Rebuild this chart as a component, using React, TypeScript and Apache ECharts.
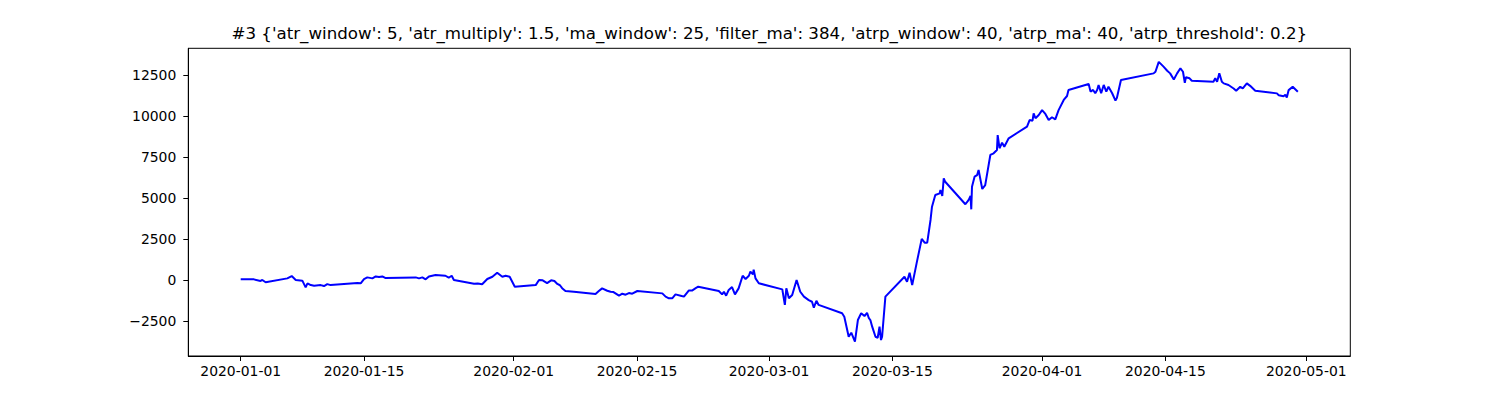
import React, { useEffect, useRef } from "react";
import * as echarts from "echarts";

const TITLE =
  "#3 {'atr_window': 5, 'atr_multiply': 1.5, 'ma_window': 25, 'filter_ma': 384, 'atrp_window': 40, 'atrp_ma': 40, 'atrp_threshold': 0.2}";

// equity curve, timestamps (UTC) and values
const times: string[] = [
  "2020-01-01 00:00", "2020-01-02 12:00", "2020-01-03 06:00", "2020-01-03 11:00", "2020-01-03 20:00",
  "2020-01-06 07:00", "2020-01-06 19:00", "2020-01-07 06:00", "2020-01-08 00:00", "2020-01-08 09:00",
  "2020-01-08 14:00", "2020-01-08 23:00", "2020-01-09 08:00", "2020-01-10 02:00", "2020-01-10 11:00",
  "2020-01-10 20:00", "2020-01-11 05:00", "2020-01-14 06:00", "2020-01-14 15:00", "2020-01-15 00:00",
  "2020-01-15 09:00", "2020-01-15 23:00", "2020-01-16 08:00", "2020-01-16 17:00", "2020-01-17 02:00",
  "2020-01-17 11:00", "2020-01-20 21:00", "2020-01-21 06:00", "2020-01-21 15:00", "2020-01-22 00:00",
  "2020-01-22 09:00", "2020-01-23 03:00", "2020-01-24 06:00", "2020-01-24 15:00", "2020-01-24 23:00",
  "2020-01-25 05:00", "2020-01-27 12:00", "2020-01-27 22:00", "2020-01-28 10:00", "2020-01-29 00:00",
  "2020-01-29 14:00", "2020-01-30 03:00", "2020-01-30 17:00", "2020-01-31 02:00", "2020-01-31 13:00",
  "2020-02-01 03:00", "2020-02-03 12:00", "2020-02-03 21:00", "2020-02-04 07:00", "2020-02-04 19:00",
  "2020-02-05 06:00", "2020-02-05 15:00", "2020-02-05 23:00", "2020-02-06 06:00", "2020-02-06 12:00",
  "2020-02-06 21:00", "2020-02-07 20:00", "2020-02-10 07:00", "2020-02-10 16:00", "2020-02-11 01:00",
  "2020-02-11 15:00", "2020-02-12 00:00", "2020-02-12 08:00", "2020-02-12 23:00", "2020-02-13 08:00",
  "2020-02-13 17:00", "2020-02-14 02:00", "2020-02-14 11:00", "2020-02-15 01:00", "2020-02-17 21:00",
  "2020-02-18 06:00", "2020-02-18 15:00", "2020-02-19 00:00", "2020-02-19 09:00", "2020-02-19 23:00",
  "2020-02-20 08:00", "2020-02-20 21:00", "2020-02-21 06:00", "2020-02-21 16:00", "2020-02-21 23:00",
  "2020-02-24 07:00", "2020-02-24 16:00", "2020-02-24 21:00", "2020-02-25 03:00", "2020-02-25 10:00",
  "2020-02-25 19:00", "2020-02-26 03:00", "2020-02-26 13:00", "2020-02-27 00:00", "2020-02-27 08:00",
  "2020-02-27 17:00", "2020-02-27 21:00", "2020-02-28 04:00", "2020-02-28 06:00", "2020-02-28 11:00",
  "2020-02-28 20:00", "2020-03-02 12:00", "2020-03-02 19:00", "2020-03-02 23:00", "2020-03-03 06:00",
  "2020-03-03 15:00", "2020-03-04 03:00", "2020-03-04 13:00", "2020-03-04 23:00", "2020-03-05 12:00",
  "2020-03-05 21:00", "2020-03-06 02:00", "2020-03-06 09:00", "2020-03-06 15:00", "2020-03-09 07:00",
  "2020-03-09 13:00", "2020-03-10 01:00", "2020-03-10 08:00", "2020-03-10 18:00", "2020-03-11 02:00",
  "2020-03-11 11:00", "2020-03-11 20:00", "2020-03-12 03:00", "2020-03-12 08:00", "2020-03-12 12:00",
  "2020-03-12 17:00", "2020-03-13 02:00", "2020-03-13 08:00", "2020-03-13 13:00", "2020-03-13 17:00",
  "2020-03-13 20:00", "2020-03-14 05:00", "2020-03-16 09:00", "2020-03-16 16:00", "2020-03-16 23:00",
  "2020-03-17 06:00", "2020-03-17 18:00", "2020-03-18 08:00", "2020-03-18 16:00", "2020-03-18 23:00",
  "2020-03-19 08:00", "2020-03-19 12:00", "2020-03-19 21:00", "2020-03-20 09:00", "2020-03-20 11:00",
  "2020-03-20 16:00", "2020-03-20 20:00", "2020-03-21 00:00", "2020-03-23 07:00", "2020-03-23 16:00",
  "2020-03-23 21:00", "2020-03-23 23:00", "2020-03-24 01:00", "2020-03-24 08:00", "2020-03-24 15:00",
  "2020-03-24 19:00", "2020-03-25 05:00", "2020-03-25 13:00", "2020-03-26 03:00", "2020-03-26 12:00",
  "2020-03-26 21:00", "2020-03-26 23:00", "2020-03-27 04:00", "2020-03-27 11:00", "2020-03-27 17:00",
  "2020-03-28 05:00", "2020-03-30 07:00", "2020-03-30 14:00", "2020-03-30 22:00", "2020-03-31 01:00",
  "2020-03-31 06:00", "2020-03-31 15:00", "2020-04-01 00:00", "2020-04-01 09:00", "2020-04-01 18:00",
  "2020-04-02 03:00", "2020-04-02 12:00", "2020-04-02 21:00", "2020-04-03 11:00", "2020-04-03 20:00",
  "2020-04-04 00:00", "2020-04-06 07:00", "2020-04-06 12:00", "2020-04-06 19:00", "2020-04-07 01:00",
  "2020-04-07 06:00", "2020-04-07 10:00", "2020-04-07 17:00", "2020-04-08 00:00", "2020-04-08 07:00",
  "2020-04-08 13:00", "2020-04-08 23:00", "2020-04-09 08:00", "2020-04-09 12:00", "2020-04-09 23:00",
  "2020-04-13 16:00", "2020-04-13 21:00", "2020-04-14 06:00", "2020-04-14 19:00", "2020-04-15 05:00",
  "2020-04-15 13:00", "2020-04-15 23:00", "2020-04-16 08:00", "2020-04-16 17:00", "2020-04-17 00:00",
  "2020-04-17 05:00", "2020-04-17 08:00", "2020-04-17 18:00", "2020-04-18 00:00", "2020-04-20 11:00",
  "2020-04-20 16:00", "2020-04-20 21:00", "2020-04-21 03:00", "2020-04-21 10:00", "2020-04-21 15:00",
  "2020-04-22 04:00", "2020-04-22 18:00", "2020-04-23 01:00", "2020-04-23 12:00", "2020-04-23 19:00",
  "2020-04-24 06:00", "2020-04-24 15:00", "2020-04-25 05:00", "2020-04-27 16:00", "2020-04-27 21:00",
  "2020-04-28 10:00", "2020-04-28 15:00", "2020-04-28 19:00", "2020-04-29 00:00", "2020-04-29 11:00",
  "2020-04-30 01:00",
];

const equity: number[] = [
  40, 40, -60, 0, -140,
  100, 240, 0, -40, -450,
  -200, -310, -350, -310, -370,
  -250, -310, -185, -200, 60,
  160, 100, 220, 180, 220,
  120, 160, 100, 160, 40,
  220, 305, 260, 140, 260,
  0, -230, -210, -260, 60,
  200, 440, 200, 260, 200,
  -410, -310, 0, -20, -190,
  -20, -60, -240, -320, -500,
  -670, -720, -855, -670, -510,
  -655, -720, -735, -955, -835,
  -895, -795, -835, -670, -815,
  -1015, -1115, -1115, -875, -955,
  -1015, -645, -645, -500, -410,
  -670, -875, -715, -955, -605,
  -430, -875, -510, 260, 60,
  260, 510, 340, 630, 100,
  -200, -570, -1520, -510, -1115,
  -915, 0, -715, -1015, -1225,
  -1325, -1690, -1265, -1520, -2030,
  -2240, -3460, -3215, -3760, -2440,
  -2030, -2200, -2000, -2330, -2440,
  -2845, -3460, -3520, -2845, -3660,
  -3460, -1015, 200, -105, 445,
  -310, 1015, 2510, 2275, 2275,
  3660, 4470, 5185, 5285, 5485,
  5120, 6200, 5990, 4620, 4890,
  5120, 4310, 5690, 6300, 6400,
  6710, 5550, 5790, 7625, 7725,
  7925, 8840, 8035, 8370, 8130,
  8640, 9350, 9755, 9715, 10165,
  9865, 10065, 10360, 10125, 9755,
  9925, 9800, 10360, 10980, 11220,
  11590, 11955, 11490, 11590, 11390,
  11590, 11895, 11390, 11895, 11490,
  11785, 11390, 10940, 11110, 12195,
  12600, 12700, 13300, 13010, 12760,
  12600, 12230, 12600, 12910, 12700,
  12030, 12360, 12300, 12150, 12090,
  12300, 12090, 12600, 12090, 11990,
  11890, 11680, 11540, 11780, 11680,
  11990, 11840, 11540, 11380, 11270,
  11210, 11300, 11130, 11580, 11780,
  11480,
];

const xTicks: string[] = [
  "2020-01-01", "2020-01-15", "2020-02-01", "2020-02-15", "2020-03-01",
  "2020-03-15", "2020-04-01", "2020-04-15", "2020-05-01",
];
const yTicks: number[] = [-2500, 0, 2500, 5000, 7500, 10000, 12500];

const DAY = 86400000;

const toUtc = (s: string): number => {
  const [d, t = "00:00"] = s.split(" ");
  const [y, m, dd] = d.split("-").map(Number);
  const [hh, mm] = t.split(":").map(Number);
  return Date.UTC(y, m - 1, dd, hh, mm);
};

const pad = (n: number) => (n < 10 ? "0" + n : "" + n);
const fmtDate = (v: number): string => {
  const d = new Date(v);
  return `${d.getUTCFullYear()}-${pad(d.getUTCMonth() + 1)}-${pad(d.getUTCDate())}`;
};

const App: React.FC = () => {
  const chartRef = useRef<HTMLDivElement>(null);

  useEffect(() => {
    const el = chartRef.current;
    if (!el) return;
    const chart = echarts.init(el, null, { renderer: "svg" });

    const start = toUtc("2020-01-01");
    const tickVals = xTicks.map(toUtc);
    const font = "DejaVu Sans";

    const option: any = {
      animation: false,
      backgroundColor: "#ffffff",
      title: {
        text: TITLE,
        left: 769.3,
        top: 25,
        textAlign: "center",
        padding: 0,
        textStyle: {
          fontFamily: font,
          fontSize: 16.67,
          fontWeight: "normal",
          color: "#000",
        },
      },
      grid: {
        left: 188.3,
        right: 149.7,
        top: 48.3,
        bottom: 44,
        show: true,
        borderColor: "#000",
        borderWidth: 1,
        backgroundColor: "transparent",
        containLabel: false,
        outerBoundsMode: "none",
      },
      xAxis: {
        type: "value",
        min: start - 5.95 * DAY,
        max: start + 126.0 * DAY,
        splitLine: { show: false },
        axisLine: { show: true, onZero: false, lineStyle: { color: "#000", width: 1 } },
        axisTick: {
          show: true,
          length: 5,
          customValues: tickVals,
          lineStyle: { color: "#000", width: 1 },
        },
        axisLabel: {
          customValues: tickVals,
          formatter: (v: number) => fmtDate(v),
          margin: 8,
          fontFamily: font,
          fontSize: 13.9,
          color: "#000",
        },
      },
      yAxis: {
        type: "value",
        min: -4634,
        max: 14129,
        splitLine: { show: false },
        axisLine: { show: true, onZero: false, lineStyle: { color: "#000", width: 1 } },
        axisTick: {
          show: true,
          length: 5,
          customValues: yTicks,
          lineStyle: { color: "#000", width: 1 },
        },
        axisLabel: {
          customValues: yTicks,
          formatter: (v: number) => String(v).replace("-", "\u2212"),
          margin: 12,
          fontFamily: font,
          fontSize: 13.9,
          color: "#000",
        },
      },
      series: [
        {
          type: "line",
          data: times.map((t, i) => [toUtc(t), equity[i]]),
          showSymbol: false,
          symbol: "none",
          lineStyle: { color: "#0000ff", width: 2 },
          clip: true,
        },
      ],
    };

    chart.setOption(option);

    return () => {
      chart.dispose();
    };
  }, []);

  return (
    <div
      ref={chartRef}
      style={{ position: "absolute", left: 0, top: 0, width: "1500px", height: "400px" }}
    />
  );
};

export default App;
